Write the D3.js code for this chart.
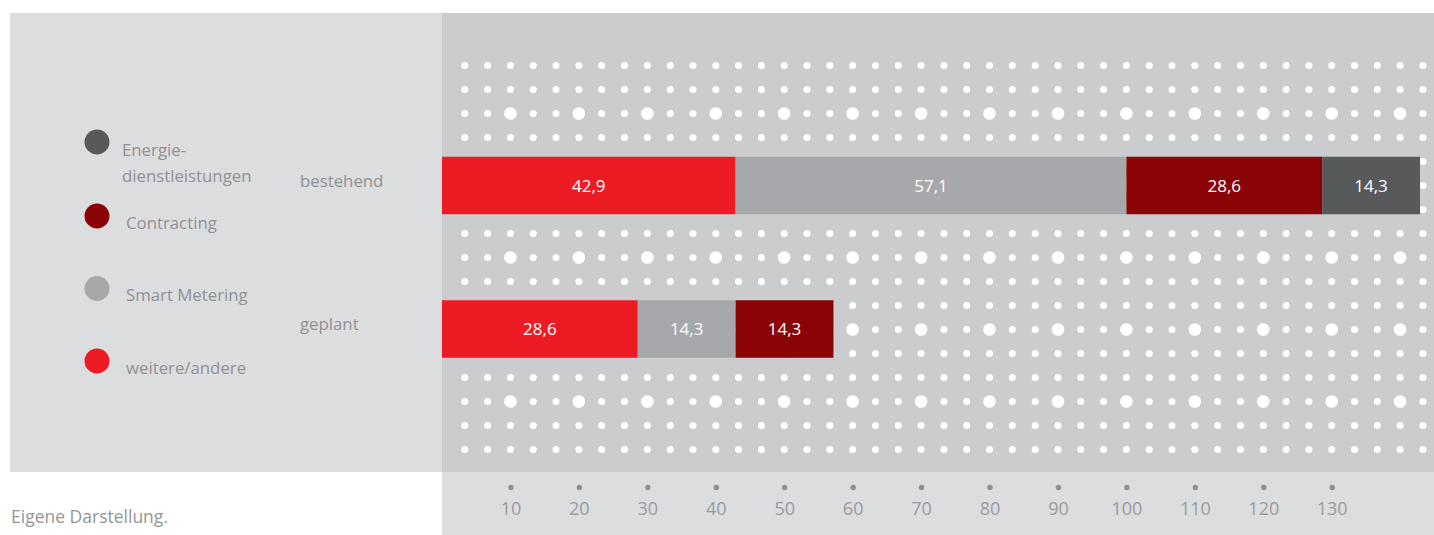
<!DOCTYPE html>
<html lang="de">
<head>
<meta charset="utf-8">
<title>Energiedienstleistungen – bestehend / geplant</title>
<script src="https://cdn.jsdelivr.net/npm/d3@7"></script>
<style>
  html, body { margin: 0; padding: 0; background: #ffffff; }
  svg { display: block; font-family: "Open Sans", "Noto Sans", sans-serif; }
</style>
</head>
<body>
<svg id="chart" width="1434" height="535"></svg>
<script>
// Rows of the chart (top to bottom)
const categories = ["bestehend", "geplant"];

// Stack order from left to right inside each bar
const seriesNames = ["weitere/andere", "Smart Metering", "Contracting", "Energiedienstleistungen"];

// Values per series, one entry per category (bestehend, geplant)
const weitereAndere = [42.9, 28.6];
const smartMetering = [57.1, 14.3];
const contracting = [28.6, 14.3];
const energieDL = [14.3, 0];

// Axis tick labels
const tickValues = [10, 20, 30, 40, 50, 60, 70, 80, 90, 100, 110, 120, 130];

// Legend entries, top to bottom (line breaks as printed)
const legendNames = ["Energiedienstleistungen", "Contracting", "Smart Metering", "weitere/andere"];
const legendLines = [["Energie-", "dienstleistungen"], ["Contracting"], ["Smart Metering"], ["weitere/andere"]];

const sourceNote = "Eigene Darstellung.";

const colors = {
  "weitere/andere": "#ed1c24",
  "Smart Metering": "#a7a8ab",
  "Contracting": "#8a0305",
  "Energiedienstleistungen": "#58595b"
};

const rows = categories.map((c, i) => ({
  category: c,
  "weitere/andere": weitereAndere[i],
  "Smart Metering": smartMetering[i],
  "Contracting": contracting[i],
  "Energiedienstleistungen": energieDL[i]
}));

const stacked = d3.stack().keys(seriesNames)(rows);
const maxTotal = d3.max(rows, r => d3.sum(seriesNames, k => r[k]));

const svg = d3.select("#chart");

// Layout
const plotLeft = 442, plotRight = 1434, plotTop = 13, plotBottom = 472;
const leftPanelX = 10;

// Scales
const x = d3.scaleLinear().domain([0, maxTotal]).range([plotLeft, 1420]);
const yCenter = d3.scalePoint().domain(categories).range([185.5, 329]);
const barH = 57.5;

// Background panels
svg.append("rect")
  .attr("x", leftPanelX).attr("y", plotTop)
  .attr("width", plotLeft - leftPanelX).attr("height", plotBottom - plotTop)
  .attr("fill", "#dcdddf");
svg.append("rect")
  .attr("x", plotLeft).attr("y", plotTop)
  .attr("width", plotRight - plotLeft).attr("height", plotBottom - plotTop)
  .attr("fill", "#cbcccE");
svg.append("rect")
  .attr("x", plotLeft).attr("y", plotBottom)
  .attr("width", plotRight - plotLeft).attr("height", 535 - plotBottom)
  .attr("fill", "#dcdddf");

// Dotted grid texture: columns every third of a tick step, rows every 24 px
const tickStep = tickValues[1] - tickValues[0];
const colStep = tickStep / 3;
const cols = [];
for (let j = 1; x(j * colStep) <= plotRight - 8; j++) cols.push(j);
const rowStep = 24;
const firstCenter = yCenter(categories[0]);
const rowIdx = d3.range(-5, 12);
const dots = [];
rowIdx.forEach(k => {
  cols.forEach(j => {
    const big = (j % 3 === 0) && (((k % 3) + 3) % 3 === 0);
    dots.push({ cx: x(j * colStep), cy: firstCenter + k * rowStep, r: big ? 6.3 : 3.5 });
  });
});
svg.append("g").attr("class", "texture")
  .selectAll("circle").data(dots).join("circle")
  .attr("cx", d => d.cx).attr("cy", d => d.cy).attr("r", d => d.r)
  .attr("fill", "#ffffff");

// Stacked bars
const segs = svg.append("g").attr("class", "bars");
stacked.forEach(s => {
  s.forEach((d, i) => {
    const v = d[1] - d[0];
    if (v <= 0) return;
    const cat = categories[i];
    segs.append("rect")
      .attr("x", x(d[0]))
      .attr("y", yCenter(cat) - barH / 2)
      .attr("width", x(d[1]) - x(d[0]))
      .attr("height", barH)
      .attr("fill", colors[s.key]);
    segs.append("text")
      .attr("x", (x(d[0]) + x(d[1])) / 2)
      .attr("y", yCenter(cat) + 6)
      .attr("text-anchor", "middle")
      .attr("fill", "#ffffff")
      .attr("font-size", 17)
      .text(d3.format(".1f")(v).replace(".", ","));
  });
});

// Category labels
svg.append("g").selectAll("text").data(categories).join("text")
  .attr("x", 300)
  .attr("y", d => yCenter(d) + 1)
  .attr("fill", "#909194")
  .attr("font-size", 16.8)
  .text(d => d);

// Legend
const legendY = [142, 216, 288.5, 361];
const legend = svg.append("g").attr("class", "legend");
legendNames.forEach((name, i) => {
  legend.append("circle")
    .attr("cx", 97).attr("cy", legendY[i]).attr("r", 12.5)
    .attr("fill", colors[name]);
  const lines = legendLines[i];
  const t = legend.append("text")
    .attr("fill", "#909194")
    .attr("font-size", 16.8);
  if (lines.length === 2) {
    lines.forEach((ln, li) => {
      t.append("tspan").attr("x", 122).attr("y", legendY[i] + 14 + li * 26).text(ln);
    });
  } else {
    t.attr("x", 126).attr("y", legendY[i] + 12.5).text(lines[0]);
  }
});

// Axis with dot ticks
const axis = svg.append("g")
  .attr("transform", `translate(0,${plotBottom})`)
  .call(d3.axisBottom(x).tickValues(tickValues).tickSize(0).tickPadding(0).tickFormat(d3.format("d")));
axis.select(".domain").remove();
axis.selectAll(".tick").append("circle")
  .attr("cx", 0).attr("cy", 15.5).attr("r", 2.7)
  .attr("fill", "#8f9093");
axis.selectAll(".tick text")
  .attr("y", 43).attr("dy", null)
  .attr("fill", "#9a9b9e")
  .attr("font-size", 18)
  .attr("font-family", "\"Open Sans\", \"Noto Sans\", sans-serif");

// Source note
svg.append("text")
  .attr("x", 11).attr("y", 523)
  .attr("fill", "#939598")
  .attr("font-size", 17.5)
  .text(sourceNote);
</script>
</body>
</html>
